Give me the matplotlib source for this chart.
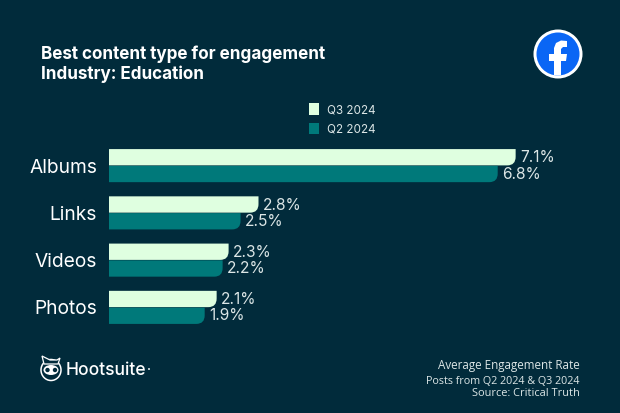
#!/usr/bin/env python3
import matplotlib

matplotlib.use("Agg")
import matplotlib.pyplot as plt
from matplotlib.patches import Circle, Ellipse, PathPatch, Patch, Polygon
from matplotlib.path import Path

categories = ["Albums", "Links", "Videos", "Photos"]
q3_values = [7.1, 2.8, 2.3, 2.1]
q2_values = [6.8, 2.5, 2.2, 1.9]
series_names = ["Q3 2024", "Q2 2024"]

BG = "#012B3B"
LIGHT = "#DFFFE0"
TEAL = "#00797A"
TEXT = "#DCE6E6"
W, H = 620, 413

plt.rcParams["font.family"] = ["Inter", "DejaVu Sans"]


def rounded_bar(ax, y, height, value, x0, color, rx=0.14, ry=0.18):
    # square on the left, rounded corners on the right
    top, bot = y - height / 2, y + height / 2
    verts = [
        (x0, bot), (value - rx, bot), (value, bot), (value, bot - ry),
        (value, top), (x0, top), (x0, bot),
    ]
    codes = [Path.MOVETO, Path.LINETO, Path.CURVE3, Path.CURVE3,
             Path.LINETO, Path.LINETO, Path.CLOSEPOLY]
    ax.add_patch(PathPatch(Path(verts, codes), fc=color, ec="none"))


fig = plt.figure(figsize=(W / 100, H / 100), dpi=100, facecolor=BG)

# chart axes, x axis starts a bit above zero like the source chart
ax_l, ax_r, ax_t, ax_b = 109, 600, 142.0, 331.0
ax = fig.add_axes([ax_l / W, 1 - ax_b / H, (ax_r - ax_l) / W, (ax_b - ax_t) / H])
ax.set_facecolor("none")
x_left = 0.3
ax.set_xlim(x_left, x_left + (ax_r - ax_l) / 59.8)
ax.set_ylim(len(categories) - 0.5, -0.5)
for s in ax.spines.values():
    s.set_visible(False)
ax.xaxis.set_visible(False)
ax.set_yticks(range(len(categories)), categories)
ax.tick_params(axis="y", length=0, pad=8.5, labelsize=13.8, labelcolor="white")

bar_h = 0.345
for i, (a, b) in enumerate(zip(q3_values, q2_values)):
    rounded_bar(ax, i - bar_h / 2 - 0.005, bar_h, a, 0, LIGHT)
    rounded_bar(ax, i + bar_h / 2 + 0.005, bar_h, b, 0, TEAL)
    ax.text(a + 0.07, i - bar_h / 2 + 0.01, f"{a}%", color=TEXT, fontsize=11.2, va="center")
    ax.text(b + 0.07, i + bar_h / 2 + 0.01, f"{b}%", color=TEXT, fontsize=11.2, va="center")

leg = fig.legend(
    handles=[Patch(fc=LIGHT, label=series_names[0]), Patch(fc=TEAL, label=series_names[1])],
    loc="upper left", bbox_to_anchor=(305.5 / W, 1 - 100 / H), frameon=False,
    fontsize=8.4, labelcolor=TEXT, handlelength=0.85, handleheight=1.15,
    handletextpad=0.72, labelspacing=0.55, borderpad=0.3, borderaxespad=0,
)

fig.text(41 / W, 1 - 54 / H, "Best content type for engagement", color="white",
         fontsize=12.3, fontweight="bold", va="center")
fig.text(41 / W, 1 - 74 / H, "Industry: Education", color="white",
         fontsize=12.3, fontweight="bold", va="center")

footer_lines = ["Average Engagement Rate", "Posts from Q2 2024 & Q3 2024", "Source: Critical Truth"]
footer_y = [366, 382, 393]
footer_size = [8.4, 7.75, 7.9]
for y, line, size in zip(footer_y, footer_lines, footer_size):
    fig.text(580 / W, 1 - y / H, line, color=TEXT, fontsize=size, ha="right", va="center",
             family=["Open Sans", "DejaVu Sans"])

# overlay in pixel coordinates for the two logos
ov = fig.add_axes([0, 0, 1, 1])
ov.set_xlim(0, W)
ov.set_ylim(H, 0)
ov.axis("off")
ov.patch.set_alpha(0)

# facebook logo
ring = Circle((558, 54), 24.5, fc="white", ec="none")
disk = Circle((558, 54), 21.5, fc="#0A66F5", ec="none")
ov.add_patch(ring)
ov.add_patch(disk)
f_shape = Polygon(
    [(554, 76), (554, 61), (549, 61), (549, 54), (554, 54), (554, 48), (556, 43), (561, 40.5),
     (567, 41), (567, 47), (563, 47), (561, 49), (561, 54), (567, 54), (566, 61), (561, 61), (561, 76)],
    closed=True, fc="white", ec="none")
ov.add_patch(f_shape)
f_shape.set_clip_path(disk)

# hootsuite owl
ov.add_patch(Ellipse((51, 370), 20, 21, fc="none", ec="white", lw=1.1))
ov.add_patch(Polygon([(42, 356), (50, 360), (57, 360), (60, 358), (58, 364), (44, 364)],
                     closed=True, fc=BG, ec="white", lw=0.9))
ov.add_patch(Ellipse((51, 370), 15, 10, fc="white", ec="none"))
ov.add_patch(Circle((47.5, 370), 2.2, fc=BG, ec="none"))
ov.add_patch(Circle((55, 370), 2.2, fc=BG, ec="none"))
ov.text(66, 370.5, "Hootsuite", color="white", fontsize=12.6, fontweight="medium", va="center",
        family=["Inter", "DejaVu Sans"])
ov.add_patch(Circle((149, 369), 1, fc=TEXT, ec="none"))

fig.savefig("out.png", dpi=100, facecolor=BG)
plt.close(fig)
